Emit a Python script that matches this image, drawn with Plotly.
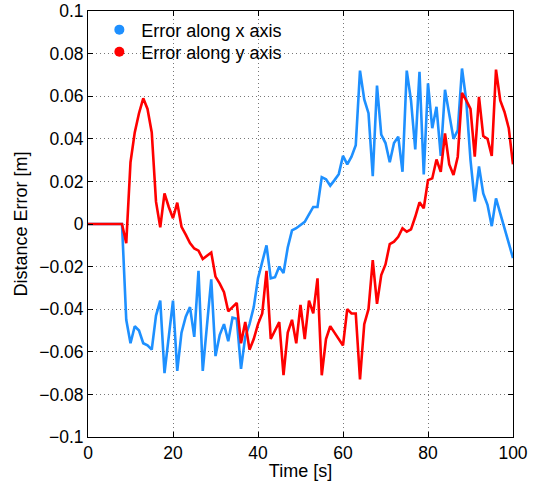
import plotly.graph_objects as go

time_s = list(range(0, 101))

err_x = [0, 0, 0, 0, 0, 0, 0, 0, 0, -0.045,
         -0.056, -0.048, -0.050, -0.056, -0.057, -0.059, -0.043, -0.036, -0.070, -0.053,
         -0.036, -0.069, -0.051, -0.0435, -0.039, -0.053, -0.022, -0.069, -0.048, -0.026,
         -0.062, -0.052, -0.047, -0.055, -0.044, -0.0445, -0.068, -0.053, -0.047, -0.039,
         -0.0255, -0.018, -0.010, -0.0255, -0.025, -0.020, -0.023, -0.011, -0.003, -0.002,
         -0.0005, 0.001, 0.0045, 0.008, 0.008, 0.022, 0.021, 0.018, 0.0206, 0.0234,
         0.032, 0.028, 0.0316, 0.037, 0.072, 0.0585, 0.052, 0.0225, 0.065, 0.042,
         0.038, 0.029, 0.038, 0.041, 0.0245, 0.072, 0.058, 0.035, 0.0714, 0.0233,
         0.066, 0.045, 0.055, 0.032, 0.063, 0.051, 0.040, 0.044, 0.073, 0.058,
         0.030, 0.0105, 0.027, 0.0144, 0.009, -0.001, 0.012, 0.005, -0.002, -0.008,
         -0.016]

err_y = [0, 0, 0, 0, 0, 0, 0, 0, 0, -0.009,
         0.029, 0.043, 0.052, 0.059, 0.054, 0.043, 0.0105, -0.0016, 0.0144, 0.008,
         0.0027, 0.010, -0.0013, -0.005, -0.009, -0.0115, -0.0125, -0.0164, -0.015, -0.0134,
         -0.0247, -0.028, -0.032, -0.041, -0.039, -0.037, -0.056, -0.046, -0.059, -0.054,
         -0.047, -0.042, -0.022, -0.054, -0.050, -0.046, -0.071, -0.051, -0.045, -0.056,
         -0.038, -0.054, -0.036, -0.042, -0.0255, -0.071, -0.054, -0.048, -0.051, -0.054,
         -0.057, -0.040, -0.042, -0.042, -0.073, -0.047, -0.040, -0.017, -0.0375, -0.024,
         -0.019, -0.0094, -0.0083, -0.006, -0.002, -0.0036, -0.0025, 0.0034, 0.0102, 0.0074,
         0.0206, 0.0214, 0.0303, 0.0245, 0.0425, 0.028, 0.023, 0.0316, 0.0616, 0.058,
         0.054, 0.0316, 0.0597, 0.0413, 0.040, 0.032, 0.0725, 0.058, 0.0526, 0.045,
         0.028]

series_names = ["Error along x axis", "Error along y axis"]
series_colors = ["#1E90FF", "#FF0000"]

x_ticks = [0, 20, 40, 60, 80, 100]
x_ticklabels = ["0", "20", "40", "60", "80", "100"]
y_ticks = [-0.1, -0.08, -0.06, -0.04, -0.02, 0, 0.02, 0.04, 0.06, 0.08, 0.1]
y_ticklabels = ["\u22120.1", "\u22120.08", "\u22120.06", "\u22120.04", "\u22120.02", "0",
                "0.02", "0.04", "0.06", "0.08", "0.1"]

FONT = "Liberation Sans, Arial, Helvetica, sans-serif"

fig = go.Figure()
for vals, name, col in zip([err_x, err_y], series_names, series_colors):
    fig.add_trace(go.Scatter(x=time_s, y=vals, mode="lines", name=name,
                             line=dict(color=col, width=2.6), showlegend=False))
# legend entries shown as dots, each in its own legend box for exact row spacing
for name, col, lg in zip(series_names, series_colors, ["legend", "legend2"]):
    fig.add_trace(go.Scatter(x=[None], y=[None], mode="markers", name=name,
                             marker=dict(color=col, size=10), legend=lg))

axis_common = dict(
    showline=True, linecolor="black", linewidth=1, mirror="allticks",
    ticks="inside", ticklen=5, tickcolor="black",
    showgrid=True, gridcolor="#777777", griddash="1px,3px", gridwidth=1,
    zeroline=False, tickfont=dict(family=FONT, size=17.5, color="black"),
)

fig.update_xaxes(range=[0, 100], tickvals=x_ticks, ticktext=x_ticklabels,
                 title=dict(text="Time [s]", font=dict(family=FONT, size=18, color="black"),
                            standoff=2),
                 **axis_common)
fig.update_yaxes(range=[-0.1, 0.1], tickvals=y_ticks, ticktext=y_ticklabels,
                 title=dict(text="Distance Error [m]", font=dict(family=FONT, size=18, color="black"),
                            standoff=6),
                 **axis_common)

legend_common = dict(xanchor="left", yanchor="top", bgcolor="rgba(0,0,0,0)", borderwidth=0,
                     font=dict(family=FONT, size=18, color="black"), itemwidth=34)

fig.update_layout(
    width=539, height=486,
    margin=dict(l=88, r=26, t=11, b=49, autoexpand=False),
    paper_bgcolor="white", plot_bgcolor="white",
    font=dict(family=FONT, size=17.5, color="black"),
    legend=dict(x=0.022, y=0.999, **legend_common),
    legend2=dict(x=0.022, y=0.947, **legend_common),
)

fig.write_html("out.html")
